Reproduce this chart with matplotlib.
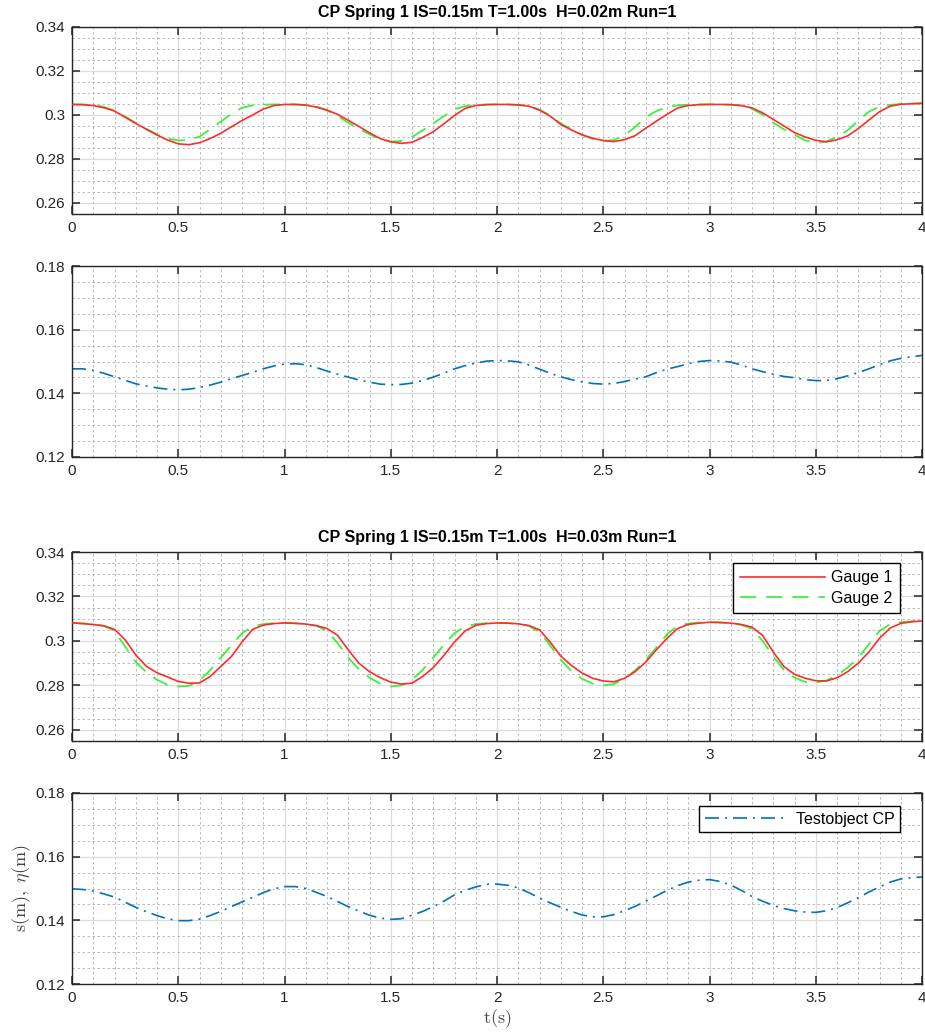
import numpy as np
import matplotlib
matplotlib.use('Agg')
import matplotlib.pyplot as plt
from matplotlib.ticker import MultipleLocator, FuncFormatter

plt.rcParams['font.family'] = 'Liberation Sans'
plt.rcParams['mathtext.fontset'] = 'cm'

# sample times (s)
t = np.linspace(0, 4, 81)

# run with H = 0.02 m
gauge1_h02 = [0.3048, 0.3047, 0.3043, 0.3033, 0.3018, 0.2990, 0.2962, 0.2935, 0.2909, 0.2886,
              0.2869, 0.2865, 0.2874, 0.2893, 0.2917, 0.2946, 0.2975, 0.3000, 0.3027, 0.3043,
              0.3048, 0.3048, 0.3045, 0.3036, 0.3022, 0.3003, 0.2976, 0.2948, 0.2919, 0.2893,
              0.2878, 0.2871, 0.2876, 0.2898, 0.2924, 0.2960, 0.2998, 0.3030, 0.3043, 0.3047,
              0.3048, 0.3048, 0.3046, 0.3040, 0.3022, 0.2995, 0.2957, 0.2932, 0.2910, 0.2894,
              0.2884, 0.2879, 0.2888, 0.2906, 0.2940, 0.2972, 0.3003, 0.3032, 0.3043, 0.3047,
              0.3048, 0.3048, 0.3047, 0.3043, 0.3032, 0.3010, 0.2980, 0.2950, 0.2920, 0.2900,
              0.2885, 0.2878, 0.2887, 0.2905, 0.2938, 0.2977, 0.3015, 0.3040, 0.3049, 0.3051,
              0.3053]
gauge2_h02 = [0.3048, 0.3048, 0.3045, 0.3037, 0.3020, 0.2993, 0.2963, 0.2937, 0.2912, 0.2893,
              0.2884, 0.2886, 0.2902, 0.2935, 0.2970, 0.3005, 0.3033, 0.3044, 0.3047, 0.3048,
              0.3048, 0.3048, 0.3046, 0.3038, 0.3022, 0.2995, 0.2965, 0.2938, 0.2912, 0.2890,
              0.2879, 0.2882, 0.2900, 0.2930, 0.2962, 0.2995, 0.3026, 0.3040, 0.3046, 0.3048,
              0.3048, 0.3048, 0.3046, 0.3040, 0.3025, 0.2998, 0.2962, 0.2935, 0.2910, 0.2892,
              0.2882, 0.2886, 0.2908, 0.2945, 0.2990, 0.3018, 0.3035, 0.3044, 0.3047, 0.3048,
              0.3048, 0.3048, 0.3047, 0.3042, 0.3028, 0.3002, 0.2965, 0.2935, 0.2910, 0.2885,
              0.2872, 0.2880, 0.2900, 0.2930, 0.2975, 0.3015, 0.3038, 0.3046, 0.3050, 0.3052,
              0.3053]
cp_h02 = [0.1477, 0.1477, 0.1472, 0.1463, 0.1452, 0.1441, 0.1430, 0.1423, 0.1417, 0.1413,
          0.1411, 0.1413, 0.1418, 0.1426, 0.1435, 0.1446, 0.1456, 0.1466, 0.1477, 0.1486,
          0.1492, 0.1493, 0.1490, 0.1481, 0.1470, 0.1460, 0.1451, 0.1442, 0.1435, 0.1429,
          0.1427, 0.1428, 0.1432, 0.1440, 0.1451, 0.1463, 0.1477, 0.1487, 0.1495, 0.1501,
          0.1503, 0.1502, 0.1499, 0.1489, 0.1476, 0.1463, 0.1452, 0.1443, 0.1436, 0.1431,
          0.1429, 0.1431, 0.1437, 0.1445, 0.1452, 0.1465, 0.1476, 0.1484, 0.1493, 0.1500,
          0.1503, 0.1502, 0.1498, 0.1489, 0.1477, 0.1468, 0.1460, 0.1453, 0.1449, 0.1443,
          0.1440, 0.1440, 0.1446, 0.1455, 0.1465, 0.1477, 0.1490, 0.1502, 0.1510, 0.1515,
          0.1519]

# run with H = 0.03 m
gauge1_h03 = [0.3081, 0.3078, 0.3074, 0.3068, 0.3052, 0.3005, 0.2937, 0.2886, 0.2857, 0.2838,
              0.2818, 0.2810, 0.2811, 0.2840, 0.2885, 0.2930, 0.2995, 0.3052, 0.3071, 0.3078,
              0.3081, 0.3079, 0.3076, 0.3069, 0.3056, 0.3025, 0.2960, 0.2900, 0.2862, 0.2835,
              0.2815, 0.2806, 0.2810, 0.2840, 0.2880, 0.2935, 0.2995, 0.3045, 0.3070, 0.3078,
              0.3081, 0.3080, 0.3077, 0.3069, 0.3050, 0.2995, 0.2932, 0.2890, 0.2856, 0.2832,
              0.2820, 0.2816, 0.2832, 0.2862, 0.2905, 0.2960, 0.3012, 0.3056, 0.3074, 0.3080,
              0.3084, 0.3083, 0.3080, 0.3074, 0.3062, 0.3025, 0.2950, 0.2885, 0.2850, 0.2832,
              0.2821, 0.2820, 0.2834, 0.2862, 0.2900, 0.2950, 0.3012, 0.3058, 0.3079, 0.3086,
              0.3090]
gauge2_h03 = [0.3081, 0.3079, 0.3075, 0.3068, 0.3045, 0.2975, 0.2905, 0.2860, 0.2826, 0.2802,
              0.2795, 0.2798, 0.2822, 0.2868, 0.2925, 0.2980, 0.3035, 0.3065, 0.3076, 0.3080,
              0.3081, 0.3080, 0.3076, 0.3068, 0.3045, 0.2990, 0.2925, 0.2872, 0.2835, 0.2808,
              0.2795, 0.2800, 0.2825, 0.2870, 0.2925, 0.2982, 0.3035, 0.3065, 0.3076, 0.3080,
              0.3081, 0.3080, 0.3077, 0.3068, 0.3040, 0.2980, 0.2915, 0.2865, 0.2830, 0.2808,
              0.2800, 0.2806, 0.2828, 0.2868, 0.2915, 0.2970, 0.3030, 0.3068, 0.3078, 0.3083,
              0.3084, 0.3083, 0.3080, 0.3072, 0.3055, 0.3000, 0.2930, 0.2870, 0.2835, 0.2816,
              0.2813, 0.2822, 0.2845, 0.2880, 0.2925, 0.2985, 0.3045, 0.3075, 0.3084, 0.3088,
              0.3090]
cp_h03 = [0.1499, 0.1497, 0.1492, 0.1483, 0.1473, 0.1457, 0.1441, 0.1427, 0.1415, 0.1405,
          0.1399, 0.1399, 0.1404, 0.1415, 0.1428, 0.1443, 0.1458, 0.1472, 0.1487, 0.1499,
          0.1506, 0.1506, 0.1500, 0.1488, 0.1475, 0.1459, 0.1443, 0.1429, 0.1416, 0.1407,
          0.1403, 0.1405, 0.1416, 0.1428, 0.1443, 0.1460, 0.1480, 0.1494, 0.1505, 0.1513,
          0.1514, 0.1510, 0.1502, 0.1487, 0.1470, 0.1455, 0.1441, 0.1428, 0.1417, 0.1411,
          0.1411, 0.1418, 0.1430, 0.1444, 0.1460, 0.1477, 0.1494, 0.1509, 0.1520, 0.1526,
          0.1528, 0.1522, 0.1511, 0.1494, 0.1475, 0.1460, 0.1447, 0.1437, 0.1430, 0.1426,
          0.1425, 0.1430, 0.1440, 0.1455, 0.1471, 0.1489, 0.1505, 0.1520, 0.1530, 0.1534,
          0.1536]

titles = ['CP Spring 1 IS=0.15m T=1.00s  H=0.02m Run=1',
          'CP Spring 1 IS=0.15m T=1.00s  H=0.03m Run=1']

red = '#ff2a2a'
green = '#3cf03c'
blue = '#0072bd'
dark = '#262626'

fig = plt.figure(figsize=(9.25, 10.32), dpi=100)
W, H = 925, 1032


def make_axes(top, bottom):
    # axes box given in pixels from the top of the figure
    return fig.add_axes([72 / W, (H - bottom) / H, 850 / W, (bottom - top) / H])


def style(ax, ylim, yticks):
    ax.set_xlim(0, 4)
    ax.set_ylim(*ylim)
    ax.set_xticks(np.arange(0, 4.01, 0.5))
    ax.set_yticks(yticks)
    ax.xaxis.set_minor_locator(MultipleLocator(0.1))
    ax.yaxis.set_minor_locator(MultipleLocator(0.005))
    fmt = FuncFormatter(lambda v, p: '%g' % round(v, 4))
    ax.xaxis.set_major_formatter(fmt)
    ax.yaxis.set_major_formatter(fmt)
    ax.set_axisbelow(True)
    ax.grid(which='major', color='#dcdcdc', linewidth=0.9)
    ax.grid(which='minor', color='#b0b0b0', linewidth=0.6, linestyle=(0, (3, 3)))
    ax.tick_params(which='major', direction='in', length=6, width=1.1, color=dark,
                   top=True, right=True, labelsize=11, labelcolor=dark, pad=5)
    ax.tick_params(which='minor', length=0)
    for s in ax.spines.values():
        s.set_color(dark)
        s.set_linewidth(1.0)


def gauge_panel(ax, g1, g2, title, legend):
    ax.plot(t, g1, color=red, linewidth=1.2, label='Gauge 1', zorder=3)
    ax.plot(t, g2, color=green, linewidth=1.3, dashes=(9, 5.5), label='Gauge 2', zorder=2)
    style(ax, (0.255, 0.34), [0.26, 0.28, 0.30, 0.32, 0.34])
    ax.set_title(title, fontsize=11.5, fontweight='bold', pad=7)
    if legend:
        leg = ax.legend(loc='upper right', bbox_to_anchor=(0.974, 0.942), borderaxespad=0,
                        fontsize=11.5, handlelength=5.3, handletextpad=0.4, borderpad=0.45,
                        labelspacing=0.35, fancybox=False, framealpha=1, edgecolor='black')
        leg.get_frame().set_linewidth(1.0)


def cp_panel(ax, cp, legend):
    ax.plot(t, cp, color=blue, linewidth=1.2, dashes=(8.4, 3.6, 1.2, 3.6), label='Testobject CP')
    style(ax, (0.12, 0.18), [0.12, 0.14, 0.16, 0.18])
    if legend:
        leg = ax.legend(loc='upper right', bbox_to_anchor=(0.974, 0.932), borderaxespad=0,
                        fontsize=11.5, handlelength=5.3, handletextpad=0.4, borderpad=0.35,
                        fancybox=False, framealpha=1, edgecolor='black')
        leg.get_frame().set_linewidth(1.0)


ax1 = make_axes(27, 214)
gauge_panel(ax1, gauge1_h02, gauge2_h02, titles[0], False)
ax2 = make_axes(266, 457)
cp_panel(ax2, cp_h02, False)
ax3 = make_axes(552, 741)
gauge_panel(ax3, gauge1_h03, gauge2_h03, titles[1], True)
ax4 = make_axes(793, 984)
cp_panel(ax4, cp_h03, True)

ax4.set_ylabel(r'$\mathrm{s(m)},\ \eta\mathrm{(m)}$', fontsize=13, color='#444444', labelpad=2)
ax4.set_xlabel(r'$\mathrm{t(s)}$', fontsize=13, color='#444444', labelpad=2)

fig.savefig('out.png', dpi=100)
